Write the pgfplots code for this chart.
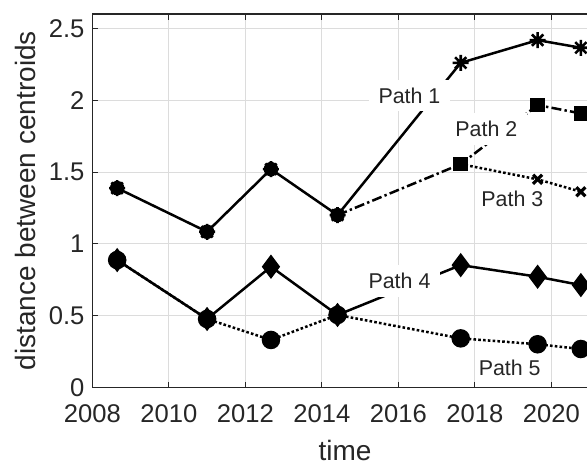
\documentclass[border=0pt]{standalone}
\usepackage{fontspec}
\setmainfont{Liberation Sans}
\usepackage{pgfplots}
\pgfplotsset{compat=1.18}

\definecolor{axisgray}{RGB}{38,38,38}
\definecolor{gridgray}{RGB}{220,220,220}

% eight-spoke asterisk marker
\pgfdeclareplotmark{mstar}{%
  \pgfpathmoveto{\pgfqpoint{0pt}{\pgfplotmarksize}}%
  \pgfpathlineto{\pgfqpoint{0pt}{-\pgfplotmarksize}}%
  \pgfpathmoveto{\pgfqpoint{\pgfplotmarksize}{0pt}}%
  \pgfpathlineto{\pgfqpoint{-\pgfplotmarksize}{0pt}}%
  \pgfpathmoveto{\pgfqpoint{.7071\pgfplotmarksize}{.7071\pgfplotmarksize}}%
  \pgfpathlineto{\pgfqpoint{-.7071\pgfplotmarksize}{-.7071\pgfplotmarksize}}%
  \pgfpathmoveto{\pgfqpoint{-.7071\pgfplotmarksize}{.7071\pgfplotmarksize}}%
  \pgfpathlineto{\pgfqpoint{.7071\pgfplotmarksize}{-.7071\pgfplotmarksize}}%
  \pgfusepathqstroke}

\tikzset{
  pathlabel/.style={font=\fontsize{10.7}{12}\selectfont, text=axisgray, anchor=base,
    inner xsep=5pt, inner ysep=4pt},
}

\begin{document}
\begin{tikzpicture}
\begin{axis}[
  scale only axis,
  width=252.5pt, height=186.75pt,
  xmin=2008, xmax=2021.2, ymin=0, ymax=2.6,
  xtick={2008,2010,2012,2014,2016,2018,2020},
  ytick={0,0.5,1,1.5,2,2.5},
  yticklabels={0,0.5,1,1.5,2,2.5},
  /pgf/number format/1000 sep={},
  /pgf/number format/assume math mode=true,
  grid=major,
  major grid style={color=gridgray, line width=0.5pt},
  axis line style={color=axisgray, line width=0.6pt},
  tick style={color=axisgray, line width=0.5pt},
  major tick length=3pt, tick align=inside,
  ticklabel style={font=\fontsize{12.8}{14}\selectfont, text=axisgray},
  xticklabel style={yshift=-4.5pt},
  xlabel={time}, ylabel={distance between centroids},
  every axis x label/.style={at={(axis description cs:0.5003,0)}, anchor=base,
    yshift=-36.5pt, inner sep=0pt, font=\fontsize{14}{16}\selectfont, text=axisgray},
  every axis y label/.style={at={(axis description cs:-0.1134,0.5)}, anchor=base,
    rotate=90, inner sep=0pt, font=\fontsize{14}{16}\selectfont, text=axisgray},
  clip=false,
  line width=1.25pt,
]

% Path 5: dotted, filled circles
\addplot[black, dash pattern=on 1.3pt off 1.1pt, mark=*, mark size=4pt, mark options={solid}]
  coordinates {(2008.65,0.887) (2011.0,0.477) (2012.67,0.331) (2014.41,0.505)
               (2017.63,0.342) (2019.64,0.301) (2020.77,0.268)};

% Path 4: solid, filled diamonds
\addplot[black, solid, mark=diamond*, mark size=5.6pt, mark options={solid, line width=0.6pt}]
  coordinates {(2008.65,0.887) (2011.0,0.477) (2012.67,0.841) (2014.41,0.505)
               (2017.63,0.852) (2019.64,0.771) (2020.77,0.713)};

% Path 3: dotted, crosses
\addplot[black, dash pattern=on 1.3pt off 1.1pt, mark=x, mark size=3.2pt, mark options={solid, line width=1.6pt}]
  coordinates {(2017.63,1.555) (2019.64,1.449) (2020.77,1.363)};

% Path 2: dash-dot, filled squares (branches off Path 1 at 2014)
\addplot[black, dash pattern=on 5pt off 1.6pt on 1.2pt off 1.6pt, mark=square*, mark size=3pt,
  mark indices={2,3,4}, mark options={solid}]
  coordinates {(2014.41,1.20) (2017.63,1.555) (2019.64,1.966) (2020.77,1.908)};

% Path 1: solid, asterisks (the early points carry a heavier blot)
\addplot[black, only marks, mark=*, mark size=3pt]
  coordinates {(2008.65,1.388) (2011.0,1.084) (2012.67,1.52) (2014.41,1.20)};
\addplot[black, solid, mark=mstar, mark size=4pt, mark options={solid, line width=1.3pt}]
  coordinates {(2008.65,1.388) (2011.0,1.084) (2012.67,1.52) (2014.41,1.20)
               (2017.63,2.26) (2019.64,2.418) (2020.77,2.365)};

% inline labels
\node[pathlabel, fill=white] at (axis cs:2016.29,1.980) {Path 1};
\node[pathlabel, fill=white] at (axis cs:2018.30,1.745) {Path 2};
\node[pathlabel] at (axis cs:2018.98,1.258) {Path 3};
\node[pathlabel, fill=white] at (axis cs:2016.03,0.690) {Path 4};
\node[pathlabel] at (axis cs:2018.91,0.087) {Path 5};
\end{axis}
\pgfresetboundingbox
\path[use as bounding box] (-46.15pt,-38.75pt) rectangle (247.35pt,193.75pt);
\end{tikzpicture}
\end{document}
